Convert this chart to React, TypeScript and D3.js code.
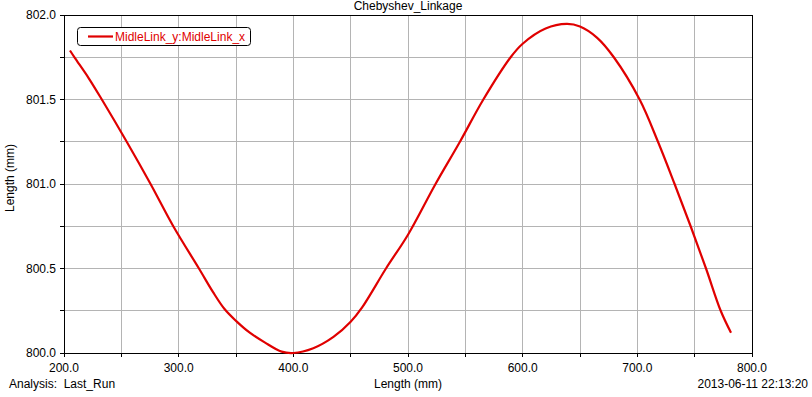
import React from "react";
import * as d3 from "d3";

const W = 812;
const H = 397;

// (Length x, Length y in mm)
const xValues = [205.2, 209.6, 221.2, 233, 254.7, 275.5, 295.3, 317.7, 330, 340, 350, 362, 375, 389.8, 400, 417.4, 435, 450, 460, 480.8, 500, 524, 545.3, 565.7, 589.5, 600, 620, 638.4, 650, 665, 679.5, 702, 718, 732.5, 746.5, 759.9, 772.7, 781.7];
const yValues = [801.79, 801.745, 801.63, 801.5, 801.25, 801.0, 800.75, 800.5, 800.36, 800.26, 800.19, 800.12, 800.063, 800.008, 800.0, 800.028, 800.095, 800.185, 800.27, 800.5, 800.7, 801.0, 801.25, 801.5, 801.75, 801.83, 801.92, 801.947, 801.932, 801.865, 801.75, 801.5, 801.25, 801.0, 800.75, 800.5, 800.25, 800.12];

const xTicks = [200, 300, 400, 500, 600, 700, 800];
const xMinor = [200, 250, 300, 350, 400, 450, 500, 550, 600, 650, 700, 750, 800];
const yTicks = [800, 800.5, 801, 801.5, 802];
const yMinor = [800, 800.25, 800.5, 800.75, 801, 801.25, 801.5, 801.75, 802];

const title = "Chebyshev_Linkage";
const seriesName = "MidleLink_y:MidleLink_x";

const margin = { left: 64, right: 60, top: 15, bottom: 44 };
const font = "'Liberation Sans', Arial, sans-serif";

export default function App() {
  const x = d3.scaleLinear().domain([200, 800]).range([margin.left, W - margin.right]);
  const y = d3.scaleLinear().domain([800, 802]).range([H - margin.bottom, margin.top]);

  const pts: [number, number][] = xValues.map((v, i) => [v, yValues[i]]);
  const line = d3
    .line<[number, number]>()
    .x(d => x(d[0]))
    .y(d => y(d[1]))
    .curve(d3.curveCatmullRom.alpha(0.5));

  const [x0, x1] = x.range();
  const [y0, y1] = y.range();

  return (
    <svg
      width={W}
      height={H}
      style={{ position: "absolute", left: 0, top: 0, background: "#fff" }}
      fontFamily={font}
    >
      <rect width={W} height={H} fill="#fff" />
      <text x={(x0 + x1) / 2} y={10} fontSize={12} textAnchor="middle" fill="#000">
        {title}
      </text>

      {/* grid */}
      {xMinor.slice(1, -1).map(t => (
        <line key={"gx" + t} x1={x(t)} x2={x(t)} y1={y1} y2={y0} stroke="#b4b4b4" strokeWidth={1} shapeRendering="crispEdges" />
      ))}
      {yMinor.slice(1, -1).map(t => (
        <line key={"gy" + t} x1={x0} x2={x1} y1={y(t)} y2={y(t)} stroke="#b4b4b4" strokeWidth={1} shapeRendering="crispEdges" />
      ))}

      {/* frame */}
      <rect x={x0} y={y1} width={x1 - x0} height={y0 - y1} fill="none" stroke="#000" strokeWidth={1} shapeRendering="crispEdges" />

      {/* ticks */}
      {xMinor.map(t => (
        <line key={"tx" + t} x1={x(t)} x2={x(t)} y1={y0} y2={y0 + 4} stroke="#000" shapeRendering="crispEdges" />
      ))}
      {yMinor.map(t => (
        <line key={"ty" + t} x1={x0 - 4} x2={x0} y1={y(t)} y2={y(t)} stroke="#000" shapeRendering="crispEdges" />
      ))}
      {xTicks.map(t => (
        <text key={"lx" + t} x={x(t)} y={y0 + 19} fontSize={12} textAnchor="middle" fill="#000">
          {t.toFixed(1)}
        </text>
      ))}
      {yTicks.map(t => (
        <text key={"ly" + t} x={x0 - 8} y={y(t) + 4} fontSize={12} textAnchor="end" fill="#000">
          {t.toFixed(1)}
        </text>
      ))}

      {/* axis titles */}
      <text x={(x0 + x1) / 2} y={y0 + 35} fontSize={12} textAnchor="middle" fill="#000">
        Length (mm)
      </text>
      <text transform={`translate(14,178) rotate(-90)`} fontSize={12} textAnchor="middle" fill="#000">
        Length (mm)
      </text>
      <text x={9} y={y0 + 35} fontSize={12} fill="#000" xmlSpace="preserve">
        Analysis:  Last_Run
      </text>
      <text x={808} y={y0 + 35} fontSize={12} textAnchor="end" fill="#000">
        2013-06-11 22:13:20
      </text>

      {/* series */}
      <path d={line(pts) ?? ""} fill="none" stroke="#e00000" strokeWidth={2.2} strokeLinejoin="round" />

      {/* legend */}
      <rect x={77.5} y={27.5} width={173} height={18} rx={3} fill="#fff" stroke="#000" strokeWidth={1} />
      <line x1={88} x2={113} y1={36.5} y2={36.5} stroke="#e00000" strokeWidth={2.2} />
      <text x={115} y={41} fontSize={12} fill="#e00000">
        {seriesName}
      </text>
    </svg>
  );
}
